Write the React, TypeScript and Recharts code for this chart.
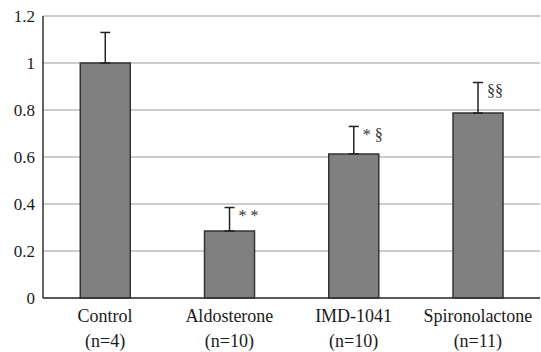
import { BarChart, Bar, XAxis, YAxis, CartesianGrid, ErrorBar, LabelList } from 'recharts'

const categories = ['Control', 'Aldosterone', 'IMD-1041', 'Spironolactone']
const groupSizes = ['(n=4)', '(n=10)', '(n=10)', '(n=11)']
const means = [1.0, 0.285, 0.613, 0.787]
const errors = [0.13, 0.1, 0.117, 0.13]
const marks = ['', '* *', '* §', '§§']
const yTicks = [0, 0.2, 0.4, 0.6, 0.8, 1, 1.2]

const data = categories.map((name, i) => ({
  name,
  n: groupSizes[i],
  value: means[i],
  err: [0, errors[i]],
  mark: marks[i],
}))

const font = 'Liberation Serif, DejaVu Serif, serif'

function CategoryTick({ x, y, payload, index }: { x?: number; y?: number; payload?: { value: string }; index?: number }) {
  return (
    <text x={x} y={y} textAnchor="middle" style={{ fontFamily: font }} fontSize={18} fill="#1a1a1a">
      <tspan x={x} dy={16}>{payload?.value}</tspan>
      <tspan x={x} dy={25}>{groupSizes[index ?? 0]}</tspan>
    </text>
  )
}

// significance marks sit just right of the error bar top
function MarkLabel(props: { x?: number; y?: number; width?: number; height?: number; index?: number }) {
  const { x = 0, y = 0, width = 0, height = 0, index = 0 } = props
  const mark = marks[index]
  if (!mark) return null
  const pxPerUnit = height / means[index]
  const errTop = y - errors[index] * pxPerUnit
  return (
    <text x={x + width / 2 + 9} y={errTop + 10} dominantBaseline="middle" style={{ fontFamily: font }} fontSize={16} fill="#333">
      {mark}
    </text>
  )
}

export default function App() {
  return (
    <div style={{ position: 'absolute', left: 0, top: 0, background: '#fff', fontFamily: font }}>
      <BarChart
        width={541}
        height={352}
        data={data}
        margin={{ top: 16, right: 1, left: 0, bottom: 0 }}
        barCategoryGap="30%"
        style={{ fontFamily: font }}
      >
        <CartesianGrid vertical={false} stroke="#9a9a9a" strokeWidth={1.2} />
        <XAxis
          dataKey="name"
          tick={<CategoryTick />}
          tickLine={false}
          axisLine={{ stroke: '#333', strokeWidth: 1.5 }}
          height={54}
          interval={0}
        />
        <YAxis
          domain={[0, 1.2]}
          ticks={yTicks}
          width={43}
          tickLine={false}
          axisLine={{ stroke: '#333', strokeWidth: 1.5 }}
          tick={{ fontSize: 17, fill: '#1a1a1a', style: { fontFamily: font } }}
        />
        <Bar dataKey="value" fill="#808080" stroke="#333" strokeWidth={1.5} isAnimationActive={false}>
          <ErrorBar dataKey="err" direction="y" width={5} stroke="#222" strokeWidth={1.5} />
          <LabelList dataKey="mark" content={<MarkLabel />} />
        </Bar>
      </BarChart>
    </div>
  )
}
